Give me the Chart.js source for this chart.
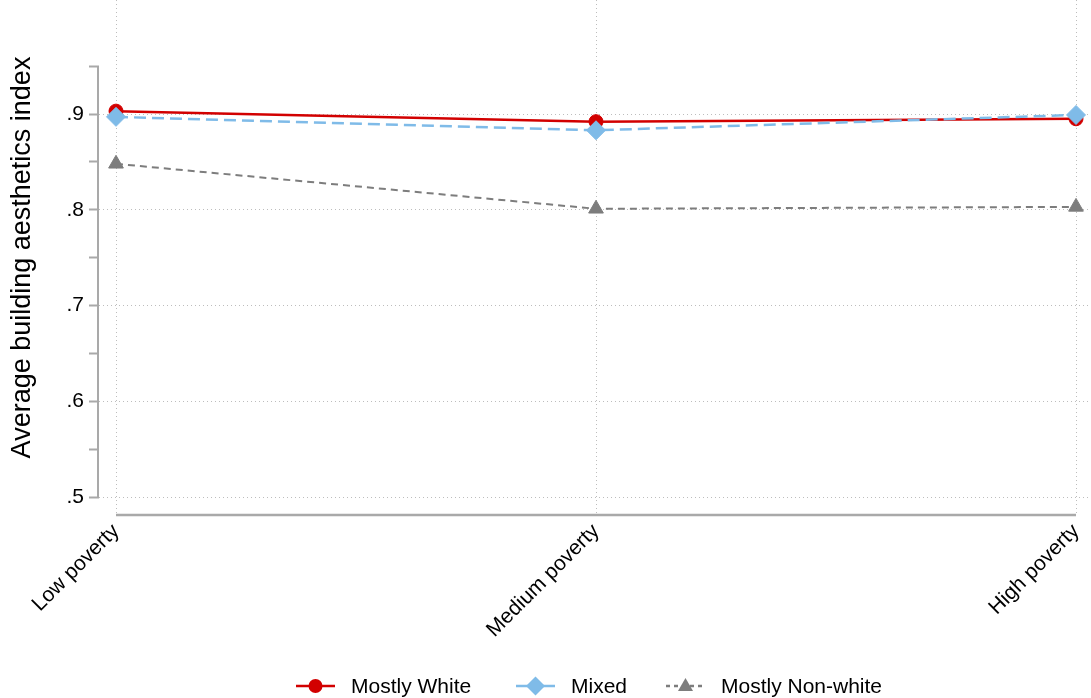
<!DOCTYPE html>
<html><head><meta charset="utf-8">
<script src="https://cdn.jsdelivr.net/npm/chart.js@4/dist/chart.umd.min.js"></script>
<style>
html,body{margin:0;padding:0;background:#fff;}
#wrap{position:relative;width:1091px;height:698px;overflow:hidden;}
#c{position:absolute;left:0;top:0;}
.leg{position:absolute;top:672px;height:28px;display:flex;align-items:center;font-family:"Liberation Sans",Arial,Helvetica,sans-serif;font-size:21px;color:#000;white-space:nowrap;}
.leg svg{margin-right:16px;display:block;}
</style></head><body>
<div id="wrap"><canvas id="c" width="1091" height="698"></canvas><div id="legend"></div></div>
<script>
// ---- data ----
const categories = ["Low poverty", "Medium poverty", "High poverty"];
const mostlyWhite = [0.903, 0.892, 0.895];
const mixed = [0.897, 0.883, 0.899];
const mostlyNonWhite = [0.848, 0.801, 0.803];
const seriesNames = ["Mostly White", "Mixed", "Mostly Non-white"];
const yMajorTicks = [0.5, 0.6, 0.7, 0.8, 0.9];
const yTickLabels = [".5", ".6", ".7", ".8", ".9"];
const yMinorTicks = [0.55, 0.65, 0.75, 0.85, 0.95];

const FONT = '"Liberation Sans", Arial, Helvetica, sans-serif';
const RED = '#d20000', BLUE = '#7fbbe8', GREY = '#7d7d7d';
const AXIS = '#a9a9a9', GRID = '#bdbdbd';

const toPts = arr => arr.map((v, i) => ({x: i, y: v}));
const isMajor = v => yMajorTicks.some(t => Math.abs(t - v) < 1e-6);

const axesPlugin = {
  id: 'stataAxes',
  beforeDatasetsDraw(chart) {
    const {ctx, chartArea, scales: {x, y}} = chart;
    ctx.save();
    ctx.strokeStyle = AXIS;
    ctx.lineWidth = 2;
    ctx.beginPath();
    ctx.moveTo(chartArea.left - 1, y.getPixelForValue(yMinorTicks[yMinorTicks.length - 1]));
    ctx.lineTo(chartArea.left - 1, y.getPixelForValue(yMajorTicks[0]));
    ctx.stroke();
    ctx.lineWidth = 2.5;
    ctx.beginPath();
    ctx.moveTo(x.getPixelForValue(0), chartArea.bottom);
    ctx.lineTo(x.getPixelForValue(categories.length - 1), chartArea.bottom);
    ctx.stroke();
    ctx.restore();
  }
};

new Chart(document.getElementById('c'), {
  type: 'line',
  data: {
    datasets: [
      {label: seriesNames[0], data: toPts(mostlyWhite), borderColor: RED, backgroundColor: RED,
       borderWidth: 2.5, pointStyle: 'circle', pointRadius: 7, pointBorderWidth: 1, order: 3},
      {label: seriesNames[1], data: toPts(mixed), borderColor: BLUE, backgroundColor: BLUE,
       borderWidth: 2.5, borderDash: [12, 6], pointStyle: 'rectRot', pointRadius: 9.5, pointBorderWidth: 1, order: 2},
      {label: seriesNames[2], data: toPts(mostlyNonWhite), borderColor: GREY, backgroundColor: GREY,
       borderWidth: 2, borderDash: [7, 5], pointStyle: 'triangle', pointRadius: 8.5, pointBorderWidth: 1, order: 1}
    ]
  },
  options: {
    responsive: false,
    animation: false,
    devicePixelRatio: 1,
    layout: {autoPadding: false, padding: {left: 0, right: 3, top: 0, bottom: 0}},
    plugins: {legend: {display: false}, tooltip: {enabled: false}},
    elements: {line: {tension: 0, fill: false}},
    scales: {
      x: {
        type: 'linear',
        min: -17 / 480,
        max: 2 + 12 / 480,
        afterBuildTicks: s => { s.ticks = categories.map((c, i) => ({value: i})); },
        afterFit: s => { s.height = 698 - 515; s.paddingLeft = 0; s.paddingRight = 0; },
        ticks: {
          callback: v => categories[v] !== undefined ? categories[v] : '',
          minRotation: 45, maxRotation: 45, autoSkip: false, padding: 4,
          font: {family: FONT, size: 21}, color: '#000'
        },
        grid: {color: GRID, lineWidth: 1, drawTicks: false, tickLength: 0},
        border: {display: false, dash: [1, 3]}
      },
      y: {
        type: 'linear',
        min: 0.5 - 18 / 957.5,
        max: 0.9 + 114 / 957.5,
        afterBuildTicks: s => {
          s.ticks = yMajorTicks.concat(yMinorTicks).sort((a, b) => a - b).map(v => ({value: v}));
        },
        afterFit: s => { s.width = 99; s.paddingTop = 0; s.paddingBottom = 0; },
        ticks: {
          callback: v => { const i = yMajorTicks.findIndex(t => Math.abs(t - v) < 1e-6); return i >= 0 ? yTickLabels[i] : ''; },
          autoSkip: false, padding: 5,
          font: {family: FONT, size: 21}, color: '#000'
        },
        grid: {
          color: c => (c.tick && isMajor(c.tick.value)) ? GRID : 'rgba(0,0,0,0)',
          tickColor: AXIS, tickLength: 10, tickWidth: 2, lineWidth: 1
        },
        border: {display: false, dash: [1, 3]},
        title: {display: true, text: 'Average building aesthetics index',
                font: {family: FONT, size: 27}, color: '#000', padding: {top: 6, bottom: 0}}
      }
    }
  },
  plugins: [axesPlugin]
});

// ---- legend (HTML) ----
const legendSpecs = [
  {left: 296, color: RED, dash: '', marker: 'circle'},
  {left: 516, color: BLUE, dash: '', marker: 'diamond'},
  {left: 666, color: GREY, dash: '4,4', marker: 'triangle'}
];
const lg = document.getElementById('legend');
legendSpecs.forEach((s, i) => {
  let m = '';
  if (s.marker === 'circle') m = `<circle cx="19.5" cy="14" r="7" fill="${s.color}"/>`;
  if (s.marker === 'diamond') m = `<polygon points="19.5,4.5 29,14 19.5,23.5 10,14" fill="${s.color}"/>`;
  if (s.marker === 'triangle') m = `<polygon points="19.5,6 27,19 12,19" fill="${s.color}"/>`;
  const div = document.createElement('div');
  div.className = 'leg';
  div.style.left = s.left + 'px';
  div.innerHTML = `<svg width="39" height="28"><line x1="0" y1="14" x2="39" y2="14" stroke="${s.color}" stroke-width="2.5" ${s.dash ? `stroke-dasharray="${s.dash}"` : ''}/>${m}</svg><span>${seriesNames[i]}</span>`;
  lg.appendChild(div);
});
</script>
</body></html>
